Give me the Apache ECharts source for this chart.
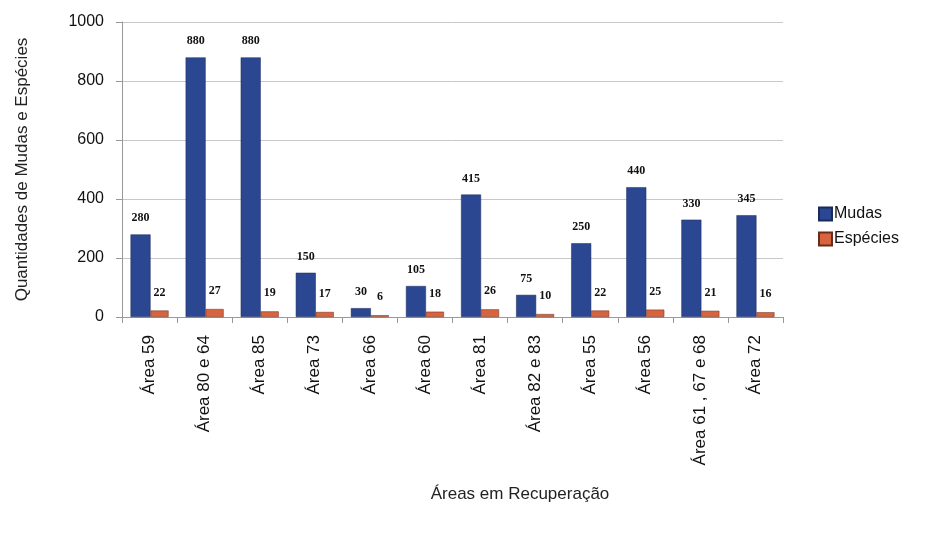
<!DOCTYPE html>
<html>
<head>
<meta charset="utf-8">
<script src="https://cdn.jsdelivr.net/npm/echarts@6/dist/echarts.min.js"></script>
<style>
  html, body { margin: 0; padding: 0; background: #ffffff; }
  #chart { width: 930px; height: 536px; }
</style>
</head>
<body>
<div id="chart"></div>
<script>
// Áreas em recuperação: número de mudas plantadas e de espécies
const areas = ['Área 59', 'Área 80 e 64', 'Área 85', 'Área 73', 'Área 66', 'Área 60',
               'Área 81', 'Área 82 e 83', 'Área 55', 'Área 56', 'Área 61 , 67 e 68', 'Área 72'];
const mudas = [280, 880, 880, 150, 30, 105, 415, 75, 250, 440, 330, 345];
const especies = [22, 27, 19, 17, 6, 18, 26, 10, 22, 25, 21, 16];
const yTicks = [0, 200, 400, 600, 800, 1000];

const chart = echarts.init(document.getElementById('chart'));

const valueLabel = {
  show: true,
  position: 'top',
  distance: 10,
  fontFamily: 'Liberation Serif',
  fontSize: 12,
  color: '#111',
  fontWeight: 'bold'
};

chart.setOption({
  backgroundColor: '#ffffff',
  animation: false,
  title: {
    text: 'Áreas em Recuperação',
    left: 515,
    top: 481,
    textAlign: 'center',
    textStyle: { fontFamily: 'Liberation Sans', fontSize: 17, fontWeight: 'normal', color: '#222' }
  },
  grid: { left: 122, right: 147, top: 22, bottom: 219, containLabel: false },
  legend: {
    orient: 'vertical',
    left: 813,
    top: 201,
    itemWidth: 13,
    itemHeight: 13,
    itemGap: 9,
    icon: 'rect',
    textStyle: { fontFamily: 'Liberation Sans', fontSize: 16, color: '#111', padding: [0, 0, 0, -3] },
    data: ['Mudas', 'Espécies']
  },
  xAxis: {
    type: 'category',
    data: areas,
    axisLine: { lineStyle: { color: '#999' } },
    axisTick: { show: true, length: 6, lineStyle: { color: '#999' } },
    axisLabel: {
      rotate: 90,
      interval: 0,
      margin: 18,
      fontFamily: 'Liberation Sans',
      fontSize: 17,
      color: '#111'
    }
  },
  yAxis: {
    type: 'value',
    min: yTicks[0],
    max: yTicks[yTicks.length - 1],
    interval: yTicks[1] - yTicks[0],
    name: 'Quantidades de Mudas e Espécies',
    nameLocation: 'middle',
    nameGap: 91,
    nameTextStyle: { fontFamily: 'Liberation Sans', fontSize: 17, color: '#222' },
    axisLine: { show: true, lineStyle: { color: '#999' } },
    axisTick: { show: true, length: 6, lineStyle: { color: '#999' } },
    axisLabel: {
      fontFamily: 'Liberation Sans', fontSize: 16, color: '#111', margin: 18,
      formatter: function (v) { return String(v); }
    },
    splitLine: { lineStyle: { color: '#c8c8c8' } }
  },
  series: [
    {
      name: 'Mudas',
      type: 'bar',
      data: mudas,
      barWidth: 20,
      barGap: '0%',
      itemStyle: { color: '#2c4791', borderColor: '#1a2a5a', borderWidth: 0.5 },
      label: valueLabel
    },
    {
      name: 'Espécies',
      type: 'bar',
      data: especies,
      barWidth: 18,
      itemStyle: { color: '#d7633f', borderColor: '#6a2c1a', borderWidth: 0.5 },
      label: Object.assign({}, valueLabel, { distance: 12 })
    }
  ]
});
</script>
</body>
</html>
